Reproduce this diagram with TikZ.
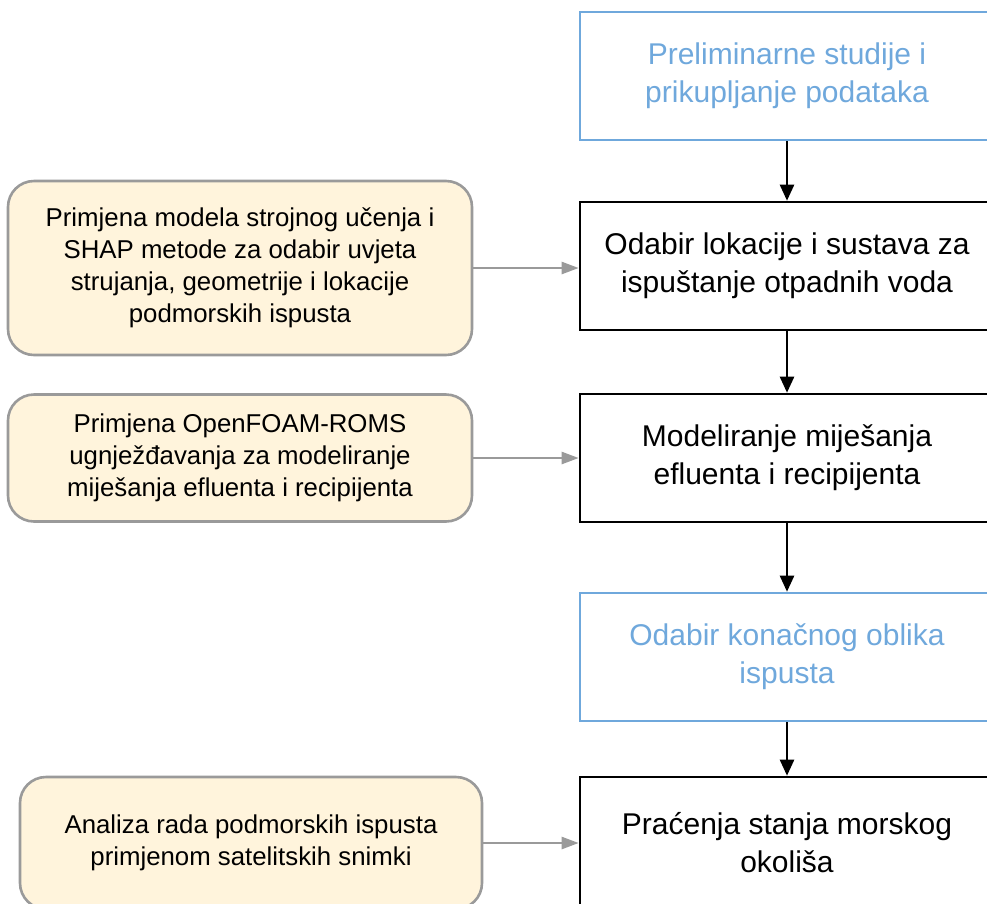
\documentclass[tikz,border=0pt]{standalone}
\usepackage{fontspec}
\setmainfont{Liberation Sans}
\usepackage{xcolor}
\usetikzlibrary{arrows.meta}
\definecolor{stepblue}{HTML}{6FA8DC}
\definecolor{notefill}{HTML}{FFF4DC}
\definecolor{notegray}{HTML}{9A9A9A}

\begin{document}
\begin{tikzpicture}[x=1pt,y=-1pt,
  mainbox/.style={draw=black,line width=2.6pt,minimum width=414pt,minimum height=128pt,align=center,font=\fontsize{30}{38}\selectfont},
  bluebox/.style={mainbox,draw=stepblue,text=stepblue},
  notebox/.style={draw=notegray,fill=notefill,rounded corners=26pt,line width=2.6pt,minimum width=464pt,align=center,font=\fontsize{25.8}{32}\selectfont},
  flow/.style={-{Triangle[length=16pt,width=14pt]},line width=2.4pt},
  side/.style={-{Triangle[length=17pt,width=12pt]},notegray,line width=2.4pt}]
\useasboundingbox (0,0) rectangle (987,903);
\clip (0,0) rectangle (987,903);

% glavni tok
\node[bluebox] (prelim) at (787,76) {Preliminarne studije i\\prikupljanje podataka};
\node[mainbox] (lokacija) at (787,266) {Odabir lokacije i sustava za\\ispuštanje otpadnih voda};
\node[mainbox] (mijesanje) at (787,458) {Modeliranje miješanja\\efluenta i recipijenta};
\node[bluebox] (oblik) at (787,657) {Odabir konačnog oblika\\ispusta};
\node[mainbox,minimum height=132pt] (pracenje) at (787,843) {Praćenja stanja morskog\\okoliša};

% metode
\node[notebox,minimum height=174pt] (shap) at (240,268) {Primjena modela strojnog učenja i\\SHAP metode za odabir uvjeta\\strujanja, geometrije i lokacije\\podmorskih ispusta};
\node[notebox,minimum height=127pt] (openfoam) at (240,458) {Primjena OpenFOAM-ROMS\\ugnježđavanja za modeliranje\\miješanja efluenta i recipijenta};
\node[notebox,minimum width=462pt,minimum height=132pt] (satelit) at (251,843) {Analiza rada podmorskih ispusta\\primjenom satelitskih snimki};

\draw[flow] (prelim) -- (lokacija);
\draw[flow] (lokacija) -- (mijesanje);
\draw[flow] (mijesanje) -- (oblik);
\draw[flow] (oblik) -- (pracenje);

\draw[side] (shap) -- (shap -| lokacija.west);
\draw[side] (openfoam) -- (openfoam -| mijesanje.west);
\draw[side] (satelit) -- (satelit -| pracenje.west);
\end{tikzpicture}
\end{document}
